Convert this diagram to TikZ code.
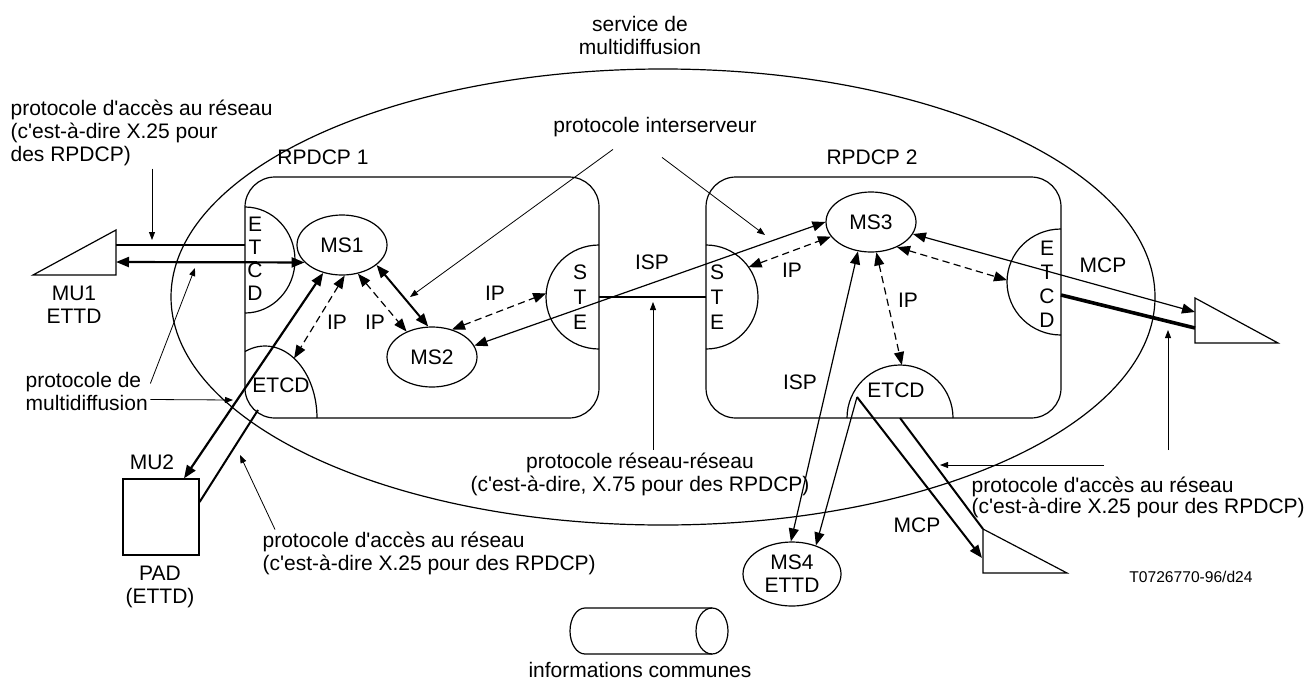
\documentclass[tikz,border=0pt]{standalone}
\usepackage{fontspec}
\setmainfont{Liberation Sans}[Ligatures = TeXOff]
\usetikzlibrary{arrows.meta}
\usetikzlibrary{shapes.geometric}

\tikzset{
server/.style = {ellipse, draw = black, inner sep = 0pt, minimum width = 45pt, minimum height = 30pt},
port/.style = {ellipse, inner sep = 0pt, outer sep = 0pt},
network/.style = {rectangle, draw = black, rounded corners = 15pt, inner sep = 0pt, outer sep = 0pt, minimum width = 177pt, minimum height = 120.5pt},
stack/.style = {align = center, inner sep = 0pt},
both/.style = {{Triangle[length = 6.5pt, width = 5pt]}-{Triangle[length = 6.5pt, width = 5pt]}},
single/.style = {-{Triangle[length = 6.5pt, width = 5pt]}},
ip/.style = {both, dash pattern = on 3.6pt off 2.2pt},
heavy/.style = {line width = 1.1pt},
lead/.style = {line width = 0.4pt, -{Triangle[length = 4pt, width = 3pt]}},
}

\begin{document}
\begin{tikzpicture}[x = 0.5pt, y = -0.5pt, line width = 0.6pt,
    every node/.style = {font = \fontsize{10.5}{11.5}\selectfont, inner sep = 1pt}]
    \useasboundingbox (0, 0) rectangle (1309, 680);

    % service de multidiffusion
    \node[ellipse, draw = black, inner sep = 0pt, minimum width = 492pt, minimum height = 228pt] (service) at (663, 297) {};
    \node[align = center] (servicelabel) at (640, 35) {service de\\multidiffusion};

    % RPDCP 1
    \node[network] (rpdcp1) at (422, 297.5) {};
    \node (rpdcp1label) at (323, 157) {RPDCP 1};
    \node[port, minimum width = 50pt, minimum height = 53pt] (etcdA) at (245, 260) {};
    \draw (etcdA.north) arc[start angle = 90, end angle = -90, x radius = 25pt, y radius = 26.5pt];
    \node[stack] (etcdAlabel) at (255, 259) {E\\T\\C\\D};
    \node[port, minimum width = 52pt, minimum height = 72pt] (etcdB) at (265, 418) {};
    \draw (etcdB.center) ++(112.6:26pt and 36pt) arc[start angle = 112.6, end angle = 0, x radius = 26pt, y radius = 36pt];
    \node (etcdBlabel) at (281, 385) {ETCD};
    \node[port, minimum width = 53pt, minimum height = 52pt] (ste1) at (599, 297) {};
    \draw (ste1.north) arc[start angle = 90, end angle = 270, x radius = 26.5pt, y radius = 26pt];
    \node[stack, font = \fontsize{10.5}{12.5}\selectfont] (ste1label) at (580, 297) {S\\T\\E};
    \node[server] (ms1) at (342, 245) {MS1};
    \node[server] (ms2) at (432, 357) {MS2};

    % RPDCP 2
    \node[network, minimum width = 177.5pt] (rpdcp2) at (883.5, 297.5) {};
    \node (rpdcp2label) at (872, 157) {RPDCP 2};
    \node[port, minimum width = 52pt, minimum height = 52pt] (ste2) at (706, 297) {};
    \draw (ste2.north) arc[start angle = 90, end angle = -90, x radius = 26pt, y radius = 26pt];
    \node[stack, font = \fontsize{10.5}{12.5}\selectfont] (ste2label) at (717, 297) {S\\T\\E};
    \node[port, minimum width = 54pt, minimum height = 53pt] (etcdD) at (1061, 282) {};
    \draw (etcdD.north) arc[start angle = 90, end angle = 270, x radius = 27pt, y radius = 26.5pt];
    \node[stack, font = \fontsize{10.5}{12}\selectfont] (etcdDlabel) at (1047, 284) {E\\T\\C\\D};
    \node[port, minimum width = 53pt, minimum height = 53pt] (etcdC) at (900, 418) {};
    \draw (etcdC.west) arc[start angle = 180, end angle = 0, x radius = 26.5pt, y radius = 26.5pt];
    \node (etcdClabel) at (896, 390) {ETCD};
    \node[server] (ms3) at (871, 222) {MS3};
    \node[server, minimum width = 49pt, minimum height = 32pt, align = center] (ms4) at (792, 574) {MS4\\ETTD};

    % terminaux
    \draw (33, 275) -- (116, 230) -- (116, 275) -- cycle;
    \node[align = center] (mu1label) at (74, 305) {MU1\\ETTD};
    \node[draw = black, inner sep = 0pt, minimum width = 38pt, minimum height = 38pt] (mu2) at (161, 517) {};
    \node (mu2label) at (152, 462) {MU2};
    \node[align = center] (padlabel) at (160, 587) {PAD\\(ETTD)};
    \draw (1195, 298) -- (1278, 343) -- (1195, 343) -- cycle;
    \draw (983, 529) -- (1067, 573) -- (983, 573) -- cycle;

    % informations communes
    \draw (712, 631) ellipse [x radius = 8pt, y radius = 11.5pt];
    \draw (712, 608) -- (585, 608) arc[start angle = 90, end angle = 270, x radius = 7.5pt, y radius = 11.5pt] -- (712, 654);
    \node (infolabel) at (640, 670) {informations communes};

    \coordinate (mu1a) at (116, 245);
    \coordinate (mu1b) at (116, 262);
    \coordinate (etcdBout) at (258, 410);
    \coordinate (etcdCin) at (857, 397);
    \coordinate (mcpA) at (1195, 312);
    \coordinate (mcpB) at (1195, 328);
    \coordinate (mcpC) at (982, 558);
    \coordinate (mcpD) at (983, 529);

    % liaisons
    \draw[heavy] (mu1a) -- (mu1a -| etcdA.center);
    \draw[heavy, both] (mu1b) -- (ms1.205);
    \draw[heavy, both] (ms1.236) -- ([xshift = 11.5pt]mu2.north);
    \draw[line width = 1pt] (etcdBout) -- ([yshift = 7.5pt]mu2.east);
    \draw[ip] (ms1.275) -- (etcdB.64);
    \draw[ip] (ms1.299) -- (ms2.135);
    \draw[line width = 1pt, both] (ms1.330) -- (ms2.97);
    \draw[ip] (ms2.54) -- (ste1.176);
    \draw[both] (ms2.15) -- (ms3.west);
    \draw[heavy] (ste1.center) -- (ste2.center);
    \draw[ip] (ste2.35) -- (ms3.200);
    \draw[ip] (ms3.280) -- (etcdC.88);
    \draw[ip] (ms3.316) -- (etcdD.178);
    \draw[both] (ms3.344) -- (mcpA);
    \draw[line width = 1.8pt] ([yshift = -6.5pt]etcdD.center) -- (mcpB);
    \draw[both] (ms3.246) -- (ms4.92);
    \draw[single] (etcdCin) -- (ms4.50);
    \draw[single, line width = 1pt] (etcdCin) -- (mcpC);
    \draw[line width = 1pt] (etcdC.center) -- (mcpD);

    \node (ipA) at (337, 322) {IP};
    \node (ipB) at (375, 322) {IP};
    \node (ipC) at (495, 293) {IP};
    \node (ipD) at (792, 270) {IP};
    \node (ipE) at (908, 300) {IP};
    \node (ispA) at (652, 262) {ISP};
    \node (ispB) at (800, 382) {ISP};
    \node (mcpAlabel) at (1103, 265) {MCP};
    \node (mcpClabel) at (917, 525) {MCP};
    \node (reflabel) at (1191, 577) {\fontsize{7.8}{9}\selectfont T0726770-96/d24};

    % protocoles
    \node[anchor = west, align = left] (acces1) at (8, 133) {protocole d'accès au réseau\\(c'est-à-dire X.25 pour\\des RPDCP)};
    \node[anchor = west, align = left] (multi) at (23, 391.5) {protocole de\\multidiffusion};
    \node[anchor = west, align = left] (acces2) at (260, 553.5) {protocole d'accès au réseau\\(c'est-à-dire X.25 pour des RPDCP)};
    \node[anchor = west, align = left, font = \fontsize{10.5}{10.5}\selectfont] (acces3) at (969, 497.5) {protocole d'accès au réseau\\(c'est-à-dire X.25 pour des RPDCP)};
    \node[align = center] (x75) at (640, 474) {protocole réseau-réseau\\(c'est-à-dire, X.75 pour des RPDCP)};
    \node (inter) at (655, 127) {protocole interserveur};

    \coordinate (tipA) at (152, 240);
    \coordinate (tipB) at (195, 268);
    \coordinate (tipC) at (233, 400);
    \coordinate (tipD) at (240, 455);
    \coordinate (tipE) at (410, 297);
    \coordinate (tipF) at (765, 235);
    \coordinate (tipG) at (653, 302);
    \coordinate (tipH) at (1168, 330);
    \coordinate (footH) at (1168, 450);
    \coordinate (tipI) at (940, 465);
    \coordinate (footI) at (1104, 465);

    \draw[lead] (acces1.south -| tipA) -- (tipA);
    \draw[lead] ([yshift = 4pt]multi.east) -- (tipB);
    \draw[lead] ([yshift = -4pt]multi.east) -- (tipC);
    \draw[lead] ([xshift = 7.5pt]acces2.north west) -- (tipD);
    \draw[lead] ([xshift = -21pt, yshift = -5pt]inter.south) -- (tipE);
    \draw[lead] ([xshift = 3.5pt, yshift = -9pt]inter.south) -- (tipF);
    \draw[lead] (x75.north -| tipG) -- (tipG);
    \draw[lead] (footH) -- (tipH);
    \draw[lead] (footI) -- (tipI);
\end{tikzpicture}
\end{document}
